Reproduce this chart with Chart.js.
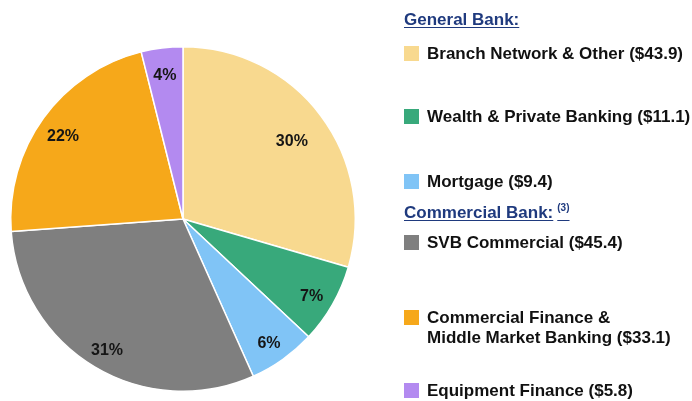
<!DOCTYPE html>
<html>
<head>
<meta charset="utf-8">
<script src="https://cdn.jsdelivr.net/npm/chart.js@4/dist/chart.umd.min.js"></script>
<style>
  body { margin: 0; background: #fff; }
  #wrap { position: relative; width: 692px; height: 401px; overflow: hidden; }
  #pie { position: absolute; left: 0; top: 0; }
  .lg { position: absolute; font-family: "Liberation Sans", Arial, sans-serif; font-weight: bold; font-size: 17px; color: #111; white-space: nowrap; }
  .hdr { color: #1f3a7e; text-decoration: underline; text-underline-offset: 2px; }
  .hdr sup { font-size: 10px; vertical-align: 7px; margin-left: 4px; }
  .sw { position: absolute; left: 0; width: 15px; height: 15px; }
  .item { padding-left: 23px; line-height: 20px; }
</style>
</head>
<body>
<div id="wrap">
  <canvas id="pie" width="692" height="401"></canvas>
  <div id="legend"></div>
</div>
<script>
// segment data, $ figures
const categories = ['Branch Network & Other', 'Wealth & Private Banking', 'Mortgage', 'SVB Commercial', 'Commercial Finance &\nMiddle Market Banking', 'Equipment Finance'];
const values = [43.9, 11.1, 9.4, 45.4, 33.1, 5.8];
const groups = ['General Bank:', 'Commercial Bank:'];
const groupOf = [0, 0, 0, 1, 1, 1];
const colors = ['#f8d98f', '#38a97b', '#80c4f6', '#7f7f7f', '#f6a81a', '#b38af0'];

// legend layout (y of each row centre)
const headerTop = [10, 202];
const itemMid = [54, 117, 182, 243, 318, 391];

const total = values.reduce((a, b) => a + b, 0);

const pctLabels = {
  id: 'pctLabels',
  afterDatasetsDraw(chart) {
    const ctx = chart.ctx;
    const meta = chart.getDatasetMeta(0);
    ctx.save();
    ctx.font = 'bold 16px "Liberation Sans", Arial, sans-serif';
    ctx.fillStyle = '#151515';
    ctx.textAlign = 'center';
    ctx.textBaseline = 'middle';
    meta.data.forEach((arc, i) => {
      const p = arc.getProps(['x', 'y', 'startAngle', 'endAngle', 'outerRadius']);
      const mid = (p.startAngle + p.endAngle) / 2;
      const r = p.outerRadius * (i === 0 ? 0.79 : 0.86);
      const txt = Math.round(values[i] / total * 100) + '%';
      ctx.fillText(txt, p.x + Math.cos(mid) * r, p.y + Math.sin(mid) * r + 4);
    });
    ctx.restore();
  }
};

new Chart(document.getElementById('pie'), {
  type: 'pie',
  data: {
    labels: categories,
    datasets: [{
      data: values,
      backgroundColor: colors,
      borderColor: '#ffffff',
      borderWidth: 1.5
    }]
  },
  options: {
    responsive: false,
    animation: false,
    layout: { padding: { left: 10, right: 336, top: 46, bottom: 9 } },
    plugins: {
      legend: { display: false },
      tooltip: { enabled: false }
    }
  },
  plugins: [pctLabels]
});

// html legend
const legend = document.getElementById('legend');
groups.forEach((g, gi) => {
  const h = document.createElement('div');
  h.className = 'lg hdr';
  h.style.left = '404px';
  h.style.top = headerTop[gi] + 'px';
  h.innerHTML = g + (gi === 1 ? '<sup>(3)</sup>' : '');
  legend.appendChild(h);
});
categories.forEach((c, i) => {
  const lines = (c + ' ($' + values[i].toFixed(1) + ')').split('\n');
  const d = document.createElement('div');
  d.className = 'lg item';
  d.style.left = '404px';
  d.style.top = (itemMid[i] - 10) + 'px';
  d.innerHTML = '<span class="sw" style="top:2px;background:' + colors[i] + '"></span>' + lines.join('<br>');
  legend.appendChild(d);
});
</script>
</body>
</html>
